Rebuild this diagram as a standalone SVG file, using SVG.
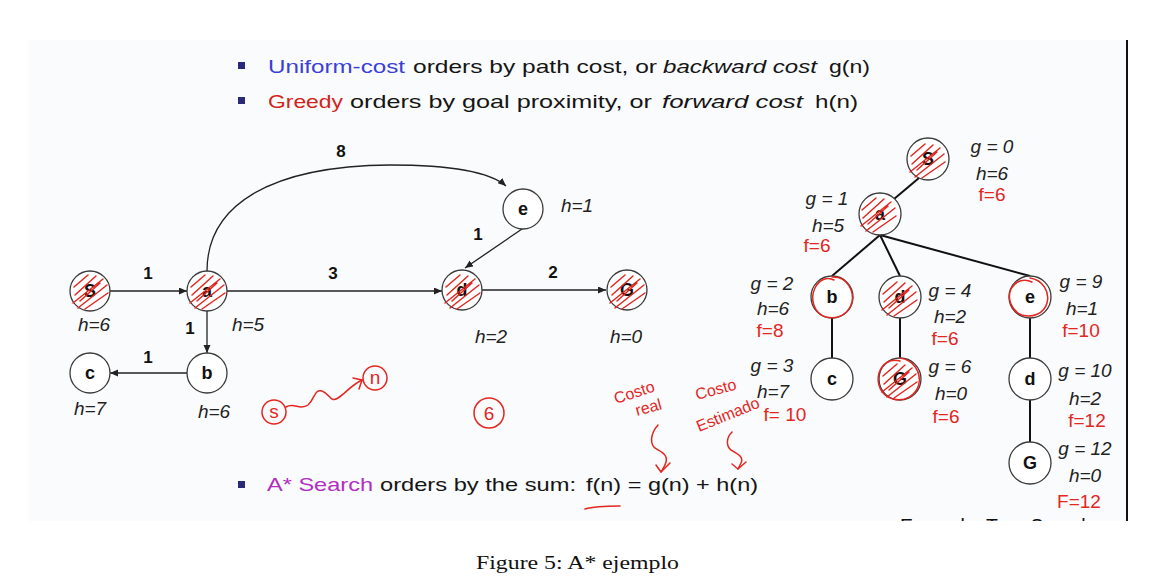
<svg xmlns="http://www.w3.org/2000/svg" xmlns:xlink="http://www.w3.org/1999/xlink" width="1167" height="579" viewBox="0 0 1167 579">
<style>
.nc{fill:#fff;stroke:#3a3a3a;stroke-width:1.3}
.nl{font-family:"Liberation Sans",Arial,sans-serif;font-weight:bold;font-size:18px;text-anchor:middle;fill:#111}
.h{font-family:"Liberation Sans",Arial,sans-serif;font-style:italic;font-size:19px;text-anchor:middle;fill:#222}
.w{font-family:"Liberation Sans",Arial,sans-serif;font-weight:bold;font-size:17px;text-anchor:middle;fill:#111}
.edge{stroke:#222;stroke-width:1.3;fill:none;marker-end:url(#arr)}
.tree{stroke:#111;stroke-width:2;fill:none}
.red{fill:#e3261f;font-family:"Liberation Sans",Arial,sans-serif;font-size:19px;text-anchor:middle}
.redl{fill:#e3261f;font-family:"Liberation Sans",Arial,sans-serif;font-size:16px}
.scr{stroke:#e3261f;stroke-width:1.5;fill:none;stroke-linecap:round;stroke-linejoin:round}
.sl{font-family:"Liberation Sans",Arial,sans-serif;font-size:19px;fill:#151515}
.bul{fill:#2b2a78}
</style>
<defs>
<marker id="arr" markerUnits="userSpaceOnUse" markerWidth="9" markerHeight="8" refX="8" refY="3.5" orient="auto">
<path d="M0,0 L8,3.5 L0,7 z" fill="#222"/>
</marker>
<path id="hatch" class="scr" d="M-15,4 L6,-15 M-17,12 L13,-12 M-12,17 L17,-6 M-5,18 L18,2 M-16,-4 L-2,-16 M-10,10 L10,-8"/>
<clipPath id="cut"><rect x="0" y="0" width="1167" height="521"/></clipPath>
</defs>
<rect x="0" y="0" width="1167" height="579" fill="#ffffff"/>
<rect x="29" y="40" width="1098" height="481" fill="#fafbfc"/>
<line x1="1127" y1="40" x2="1127" y2="521" stroke="#111" stroke-width="2"/>

<g id="bullets">
<rect class="bul" x="238" y="62" width="7" height="7"/>
<rect class="bul" x="238" y="97" width="7" height="7"/>
<rect class="bul" x="238" y="481" width="7" height="7"/>
<text class="sl" x="268" y="72.5" textLength="137" lengthAdjust="spacingAndGlyphs" style="fill:#3b3fd8">Uniform-cost</text>
<text class="sl" x="413" y="72.5" textLength="244" lengthAdjust="spacingAndGlyphs">orders by path cost, or</text>
<text class="sl" x="663" y="72.5" font-style="italic" textLength="154" lengthAdjust="spacingAndGlyphs">backward cost</text>
<text class="sl" x="829" y="72.5" textLength="41" lengthAdjust="spacingAndGlyphs">g(n)</text>
<text class="sl" x="268" y="108" textLength="75" lengthAdjust="spacingAndGlyphs" style="fill:#d2231b">Greedy</text>
<text class="sl" x="350" y="108" textLength="302" lengthAdjust="spacingAndGlyphs">orders by goal proximity, or</text>
<text class="sl" x="662" y="108" font-style="italic" textLength="141" lengthAdjust="spacingAndGlyphs">forward cost</text>
<text class="sl" x="815" y="108" textLength="43" lengthAdjust="spacingAndGlyphs">h(n)</text>
<text class="sl" x="267" y="491" textLength="106" lengthAdjust="spacingAndGlyphs" style="fill:#b02fc0">A* Search</text>
<text class="sl" x="380" y="491" textLength="196" lengthAdjust="spacingAndGlyphs">orders by the sum:</text>
<text class="sl" x="586" y="491" textLength="172" lengthAdjust="spacingAndGlyphs">f(n) = g(n) + h(n)</text>
</g>

<g id="connectors">
<line class="edge" x1="110" y1="291" x2="187" y2="291"/>
<line class="edge" x1="227" y1="291" x2="442" y2="291"/>
<line class="edge" x1="482" y1="290" x2="606" y2="290"/>
<line class="edge" x1="207" y1="311" x2="207" y2="353"/>
<line class="edge" x1="187" y1="373" x2="110" y2="373"/>
<line class="edge" x1="522" y1="229" x2="465" y2="268"/>
<path class="edge" d="M207,271 C207,205 270,166 390,165 C450,165 490,172 506,186"/>
<line class="tree" x1="919" y1="178" x2="894" y2="199"/>
<line class="tree" x1="880" y1="235" x2="832" y2="276"/>
<line class="tree" x1="880" y1="235" x2="900" y2="276"/>
<line class="tree" x1="880" y1="235" x2="1030" y2="276"/>
<line class="tree" x1="832" y1="318" x2="832" y2="358"/>
<line class="tree" x1="900" y1="318" x2="900" y2="358"/>
<line class="tree" x1="1030" y1="317" x2="1030" y2="358"/>
<line class="tree" x1="1030" y1="400" x2="1030" y2="442"/>
</g>

<g id="edge-labels">
<text class="w" x="148" y="279">1</text>
<text class="w" x="333" y="279">3</text>
<text class="w" x="341" y="157">8</text>
<text class="w" x="190" y="334">1</text>
<text class="w" x="148" y="363">1</text>
<text class="w" x="478" y="240">1</text>
<text class="w" x="553" y="278">2</text>
</g>

<g id="g-S"><circle class="nc" cx="90" cy="291" r="20"/><text class="nl" x="90" y="297">S</text><text class="h" x="94" y="331">h=6</text><use href="#hatch" x="90" y="291"/></g>
<g id="g-a"><circle class="nc" cx="207" cy="291" r="20"/><text class="nl" x="207" y="297">a</text><text class="h" x="248" y="331">h=5</text><use href="#hatch" x="207" y="291"/></g>
<g id="g-b"><circle class="nc" cx="207" cy="373" r="20"/><text class="nl" x="207" y="379">b</text><text class="h" x="214" y="418">h=6</text></g>
<g id="g-c"><circle class="nc" cx="90" cy="373" r="20"/><text class="nl" x="90" y="379">c</text><text class="h" x="90" y="415">h=7</text></g>
<g id="g-d"><circle class="nc" cx="462" cy="290" r="20"/><text class="nl" x="462" y="296">d</text><text class="h" x="491" y="343">h=2</text><use href="#hatch" x="462" y="291"/></g>
<g id="g-e"><circle class="nc" cx="523" cy="209" r="20"/><text class="nl" x="523" y="215">e</text><text class="h" x="577" y="212">h=1</text></g>
<g id="g-G"><circle class="nc" cx="627" cy="290" r="20"/><text class="nl" x="627" y="296">G</text><text class="h" x="626" y="343">h=0</text><use href="#hatch" x="627" y="291"/></g>

<g id="t-S"><circle class="nc" cx="928" cy="159" r="21"/><text class="nl" x="928" y="165">S</text><use href="#hatch" x="927" y="160"/>
<text class="h" x="992" y="153">g = 0</text><text class="h" x="992" y="180">h=6</text><text class="red" x="992" y="201">f=6</text></g>
<g id="t-a"><circle class="nc" cx="880" cy="214" r="21"/><text class="nl" x="880" y="220">a</text><use href="#hatch" x="878" y="214"/>
<text class="h" x="827" y="205">g = 1</text><text class="h" x="828" y="232">h=5</text><text class="red" x="817" y="252">f=6</text></g>
<g id="t-b"><circle class="nc" cx="832" cy="297" r="21"/><text class="nl" x="832" y="303">b</text>
<path class="scr" d="M832,277 C848,276 854,292 852,302 C849,314 838,320 826,317 C813,313 810,298 815,288 C819,280 827,276 834,280"/>
<text class="h" x="772" y="290">g = 2</text><text class="h" x="773" y="315">h=6</text><text class="red" x="770" y="337" font-size="18">f=8</text></g>
<g id="t-d"><circle class="nc" cx="900" cy="297" r="21"/><text class="nl" x="900" y="303">d</text><use href="#hatch" x="899" y="298"/>
<text class="h" x="950" y="297">g = 4</text><text class="h" x="950" y="323">h=2</text><text class="red" x="945" y="345">f=6</text></g>
<g id="t-e"><circle class="nc" cx="1030" cy="297" r="21"/><text class="nl" x="1030" y="303">e</text>
<path class="scr" d="M1030,278 C1043,280 1050,292 1047,303 C1044,314 1032,318 1022,315 C1011,311 1007,298 1011,289 C1015,281 1024,278 1032,282"/>
<text class="h" x="1081" y="288">g = 9</text><text class="h" x="1082" y="315">h=1</text><text class="red" x="1081" y="337">f=10</text></g>
<g id="t-c"><circle class="nc" cx="832" cy="379" r="21"/><text class="nl" x="832" y="385">c</text>
<text class="h" x="772" y="372">g = 3</text><text class="h" x="773" y="398">h=7</text><text class="red" x="785" y="421">f= 10</text></g>
<g id="t-G"><circle class="nc" cx="900" cy="379" r="21"/><text class="nl" x="900" y="385">G</text><use href="#hatch" x="899" y="380"/>
<path class="scr" d="M900,358 C914,360 921,372 919,384 C916,396 904,402 893,399 C881,396 876,384 879,373 C882,364 890,358 900,361"/>
<text class="h" x="950" y="373">g = 6</text><text class="h" x="951" y="400">h=0</text><text class="red" x="946" y="423">f=6</text></g>
<g id="t-d2"><circle class="nc" cx="1030" cy="379" r="21"/><text class="nl" x="1030" y="385">d</text>
<text class="h" x="1085" y="377">g = 10</text><text class="h" x="1085" y="405">h=2</text><text class="red" x="1087" y="427">f=12</text></g>
<g id="t-G2"><circle class="nc" cx="1030" cy="463" r="21"/><text class="nl" x="1030" y="469">G</text>
<text class="h" x="1085" y="455">g = 12</text><text class="h" x="1085" y="482">h=0</text><text class="red" x="1079" y="508">F=12</text></g>

<g id="annotations">
<circle class="scr" cx="274" cy="412" r="12"/>
<text class="red" x="274" y="418" font-size="15">s</text>
<path class="scr" d="M286,407 C294,402 300,411 308,405 C315,399 314,389 322,391 C330,394 330,403 338,398 C346,393 350,386 362,380"/>
<path class="scr" d="M353,378 L362,380 L359,389"/>
<circle class="scr" cx="375" cy="378" r="12"/>
<text class="red" x="375" y="384" font-size="15">n</text>
<circle class="scr" cx="489" cy="413" r="15"/>
<text class="red" x="489" y="420">6</text>
<text class="redl" x="616" y="404" transform="rotate(-18 616 404)">Costo</text>
<text class="redl" x="637" y="416" transform="rotate(-15 637 416)">real</text>
<text class="redl" x="697" y="400" transform="rotate(-15 697 400)">Costo</text>
<text class="redl" x="699" y="432" transform="rotate(-22 699 432)">Estimado</text>
<path class="scr" d="M658,425 C650,434 650,444 655,448 C662,452 668,455 666,462 C665,466 663,469 661,472"/>
<path class="scr" d="M656,465 L661,472 L670,463"/>
<path class="scr" d="M732,432 C726,438 726,446 731,450 C738,454 744,457 741,463 C740,465 739,467 738,469"/>
<path class="scr" d="M732,464 L738,469 L746,462"/>
<path class="scr" d="M585,509 C595,506 610,506 620,506" stroke-width="2.2"/>
</g>

<g id="cutoff" clip-path="url(#cut)">
<text x="900" y="533" font-family="Liberation Sans, Arial, sans-serif" font-size="20" fill="#111" textLength="192" lengthAdjust="spacingAndGlyphs">Example: Tree Search</text>
</g>

<text x="476" y="569" font-family="Liberation Serif, Times New Roman, serif" font-size="19" fill="#111" textLength="203" lengthAdjust="spacingAndGlyphs">Figure 5:  A* ejemplo</text>
</svg>
